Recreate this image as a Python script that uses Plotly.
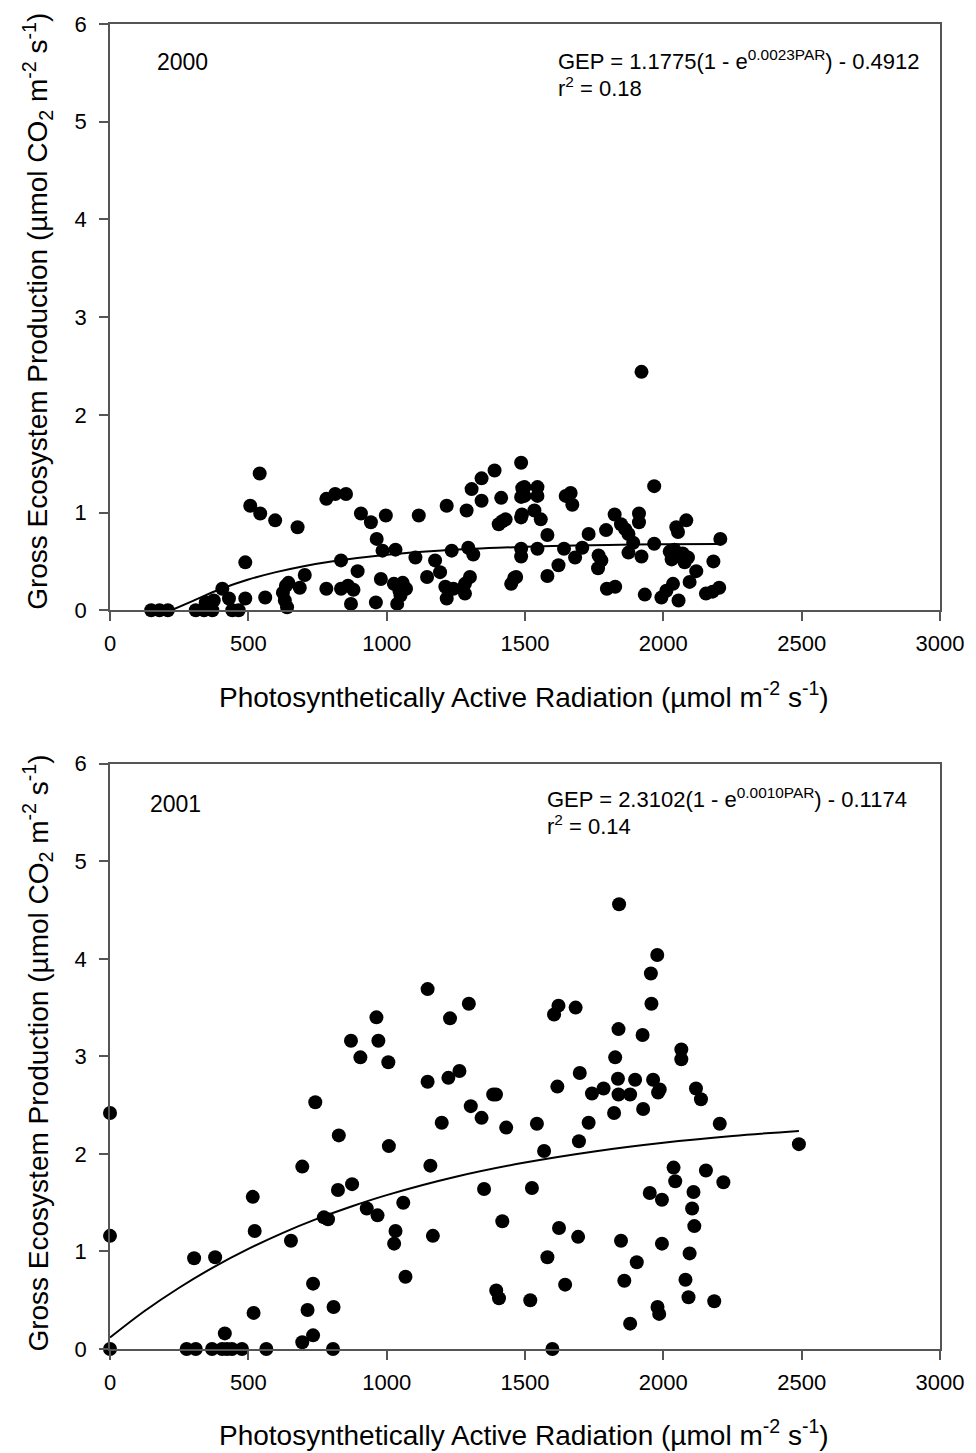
import plotly.graph_objects as go

# ---------------- data: 2000 ----------------
par_2000 = [149, 179, 209, 310, 340, 370, 406, 346, 375, 430, 442, 465, 489, 489, 507, 541, 543, 561,
            597, 625, 632, 640, 636, 645, 678, 686, 704, 782, 814, 853, 782, 835, 835, 860, 880, 871,
            895, 907, 943, 964, 961, 979, 985, 997, 1032, 1026, 1038, 1050, 1058, 1070, 1046, 1104,
            1116, 1146, 1175, 1193, 1217, 1217, 1212, 1235, 1241, 1283, 1283, 1301, 1295, 1313, 1289,
            1307, 1343, 1343, 1390, 1405, 1418, 1430, 1414, 1450, 1461, 1486, 1486, 1490, 1486, 1486,
            1486, 1498, 1498, 1545, 1545, 1489, 1534, 1557, 1581, 1545, 1468, 1581, 1621, 1641, 1647,
            1665, 1671, 1681, 1707, 1730, 1766, 1776, 1764, 1793, 1796, 1826, 1824, 1847, 1862, 1874,
            1874, 1891, 1912, 1912, 1921, 1921, 1933, 1967, 1967, 1993, 2011, 2035, 2055, 2023, 2030,
            2040, 2055, 2070, 2047, 2053, 2083, 2077, 2089, 2095, 2119, 2154, 2178, 2202, 2181, 2206]
gep_2000 = [0, 0, 0, 0, 0, 0, 0.22, 0.08, 0.10, 0.12, 0, 0, 0.49, 0.12, 1.07, 1.40, 0.99, 0.13,
            0.92, 0.18, 0.10, 0.03, 0.25, 0.28, 0.85, 0.23, 0.36, 1.14, 1.19, 1.19, 0.22, 0.51, 0.22,
            0.25, 0.21, 0.065, 0.40, 0.99, 0.90, 0.73, 0.08, 0.32, 0.61, 0.97, 0.62, 0.27, 0.065, 0.15,
            0.28, 0.22, 0.20, 0.54, 0.97, 0.34, 0.51, 0.39, 1.07, 0.12, 0.24, 0.61, 0.22, 0.17, 0.27,
            0.34, 0.64, 0.57, 1.02, 1.24, 1.12, 1.35, 1.43, 0.88, 0.91, 0.93, 1.15, 0.27, 0.33, 1.51,
            1.16, 1.25, 0.95, 0.63, 0.55, 1.26, 1.17, 1.26, 1.17, 0.98, 1.02, 0.93, 0.77, 0.63, 0.34,
            0.35, 0.46, 0.63, 1.17, 1.20, 1.08, 0.54, 0.64, 0.78, 0.56, 0.51, 0.43, 0.82, 0.22, 0.24,
            0.98, 0.88, 0.83, 0.78, 0.59, 0.69, 0.99, 0.90, 2.44, 0.55, 0.16, 1.27, 0.68, 0.13, 0.20,
            0.27, 0.10, 0.60, 0.52, 0.62, 0.55, 0.58, 0.85, 0.80, 0.92, 0.49, 0.54, 0.29, 0.40, 0.17,
            0.19, 0.23, 0.50, 0.73]
fit_par_2000 = [222, 300, 400, 500, 600, 700, 800, 1000, 1200, 1400, 1600, 1800, 2000, 2200]
fit_gep_2000 = [0, 0.096, 0.217, 0.314, 0.390, 0.451, 0.499, 0.568, 0.612, 0.639, 0.657, 0.668, 0.675, 0.679]

# ---------------- data: 2001 ----------------
par_2001 = [0, 0, 0, 277, 310, 304, 369, 405, 423, 441, 415, 380, 477, 516, 523, 519, 565, 654, 695, 695,
            714, 734, 734, 742, 806, 808, 773, 788, 824, 827, 875, 871, 905, 970, 963, 1006, 928, 967,
            1008, 1060, 1032, 1027, 1068, 1148, 1148, 1158, 1167, 1229, 1223, 1263, 1199, 1297, 1304,
            1343, 1385, 1395, 1432, 1352, 1418, 1396, 1406, 1519, 1525, 1543, 1569, 1581, 1599, 1605,
            1621, 1617, 1623, 1645, 1683, 1698, 1695, 1692, 1730, 1742, 1784, 1826, 1836, 1838, 1822,
            1838, 1840, 1847, 1859, 1880, 1880, 1898, 1904, 1925, 1927, 1951, 1955, 1957, 1963, 1978,
            1981, 1987, 1979, 1985, 1995, 1995, 2037, 2043, 2065, 2065, 2080, 2091, 2095, 2104, 2109,
            2112, 2118, 2136, 2154, 2184, 2204, 2217, 2490]
gep_2001 = [2.42, 1.16, 0, 0, 0, 0.93, 0, 0, 0, 0, 0.16, 0.94, 0, 1.56, 1.21, 0.37, 0, 1.11, 1.87, 0.07,
            0.40, 0.14, 0.67, 2.53, 0, 0.43, 1.35, 1.33, 1.63, 2.19, 1.69, 3.16, 2.99, 3.16, 3.40, 2.94,
            1.44, 1.37, 2.08, 1.50, 1.21, 1.08, 0.74, 3.69, 2.74, 1.88, 1.16, 3.39, 2.78, 2.85, 2.32,
            3.54, 2.49, 2.37, 2.61, 2.61, 2.27, 1.64, 1.31, 0.60, 0.52, 0.50, 1.65, 2.31, 2.03, 0.94, 0,
            3.43, 3.52, 2.69, 1.24, 0.66, 3.50, 2.83, 2.13, 1.15, 2.32, 2.62, 2.67, 2.99, 2.77, 2.61,
            2.42, 3.28, 4.56, 1.11, 0.70, 0.26, 2.61, 2.76, 0.89, 3.22, 2.46, 1.60, 3.85, 3.54, 2.76,
            4.04, 2.63, 2.66, 0.43, 0.36, 1.53, 1.08, 1.86, 1.72, 3.07, 2.97, 0.71, 0.53, 0.98, 1.44,
            1.61, 1.26, 2.67, 2.56, 1.83, 0.49, 2.31, 1.71, 2.10]
fit_par_2001 = [0, 125, 250, 375, 500, 625, 750, 875, 1000, 1250, 1500, 1750, 2000, 2250, 2490]
fit_gep_2001 = [0.117, 0.389, 0.628, 0.840, 1.026, 1.191, 1.336, 1.464, 1.578, 1.766, 1.912, 2.026,
                2.115, 2.184, 2.236]

x_ticks = [0, 500, 1000, 1500, 2000, 2500, 3000]
y_ticks = [0, 1, 2, 3, 4, 5, 6]
year_labels = ["2000", "2001"]
eq_labels = ["GEP = 1.1775(1 - e<sup>0.0023PAR</sup>) - 0.4912",
             "GEP = 2.3102(1 - e<sup>0.0010PAR</sup>) - 0.1174"]
r2_labels = ["r<sup>2</sup> = 0.18", "r<sup>2</sup> = 0.14"]
x_title = "Photosynthetically Active Radiation (µmol m<sup>-2</sup> s<sup>-1</sup>)"
y_title = "Gross Ecosystem Production (µmol CO<sub>2</sub> m<sup>-2</sup> s<sup>-1</sup>)"

W, H = 976, 1453
ML, MR, MT, MB = 110, 28, 20, 104
PW, PH = W - ML - MR, H - MT - MB


def px(x):
    return (x - ML) / PW


def py(y):
    return (H - MB - y) / PH


FONT = "Liberation Sans, Arial, sans-serif"
fig = go.Figure()

for i, (xs, ys, fx, fy) in enumerate([(par_2000, gep_2000, fit_par_2000, fit_gep_2000),
                                       (par_2001, gep_2001, fit_par_2001, fit_gep_2001)]):
    xa = "x" if i == 0 else "x2"
    ya = "y" if i == 0 else "y2"
    fig.add_trace(go.Scatter(x=xs, y=ys, mode="markers", xaxis=xa, yaxis=ya,
                             marker=dict(size=14, color="black"), cliponaxis=False,
                             showlegend=False))
    fig.add_trace(go.Scatter(x=fx, y=fy, mode="lines", xaxis=xa, yaxis=ya,
                             line=dict(color="black", width=2, shape="spline"),
                             showlegend=False))

axis_common = dict(showline=True, linecolor="#555", linewidth=1.5, mirror=True,
                   ticks="outside", ticklen=9, tickcolor="#555", tickwidth=1.5,
                   showgrid=False, zeroline=False,
                   tickfont=dict(family=FONT, size=22, color="black"))

top_dom = [py(608), py(20)]
bot_dom = [py(1349), py(762)]

fig.update_layout(
    width=W, height=H,
    margin=dict(l=ML, r=MR, t=MT, b=MB),
    paper_bgcolor="white", plot_bgcolor="white",
    font=dict(family=FONT, color="black"),
    xaxis=dict(axis_common, range=[0, 3000], tickvals=x_ticks, anchor="y", domain=[0, 1],
               ticklabelstandoff=4),
    yaxis=dict(axis_common, range=[0, 6], tickvals=y_ticks, anchor="x", domain=top_dom,
               ticklabelstandoff=8),
    xaxis2=dict(axis_common, range=[0, 3000], tickvals=x_ticks, anchor="y2", domain=[0, 1],
                ticklabelstandoff=4),
    yaxis2=dict(axis_common, range=[0, 6], tickvals=y_ticks, anchor="x2", domain=bot_dom,
                ticklabelstandoff=8),
)

ann = []
# axis titles
for ycen in [693, 1433]:
    ann.append(dict(x=px(528), y=py(ycen), xref="paper", yref="paper", text=x_title,
                    showarrow=False, xanchor="center", yanchor="middle",
                    font=dict(family=FONT, size=28, color="black")))
for ycen in [308, 1052]:
    ann.append(dict(x=px(37), y=py(ycen), xref="paper", yref="paper", text=y_title,
                    showarrow=False, xanchor="center", yanchor="middle", textangle=-90,
                    font=dict(family=FONT, size=28, color="black")))
# year labels, equations
for i, (yx, yy, ex, ey) in enumerate([(155, 58, 560, 56), (148, 802, 549, 796)]):
    ann.append(dict(x=px(yx), y=py(yy), xref="paper", yref="paper", text=year_labels[i],
                    showarrow=False, xanchor="left", yanchor="middle",
                    font=dict(family=FONT, size=23, color="black")))
    ann.append(dict(x=px(ex), y=py(ey), xref="paper", yref="paper", text=eq_labels[i],
                    showarrow=False, xanchor="left", yanchor="middle",
                    font=dict(family=FONT, size=22, color="black")))
    ann.append(dict(x=px(ex), y=py(ey + 27), xref="paper", yref="paper", text=r2_labels[i],
                    showarrow=False, xanchor="left", yanchor="middle",
                    font=dict(family=FONT, size=22, color="black")))
fig.update_layout(annotations=ann)

fig.write_html("out.html")
